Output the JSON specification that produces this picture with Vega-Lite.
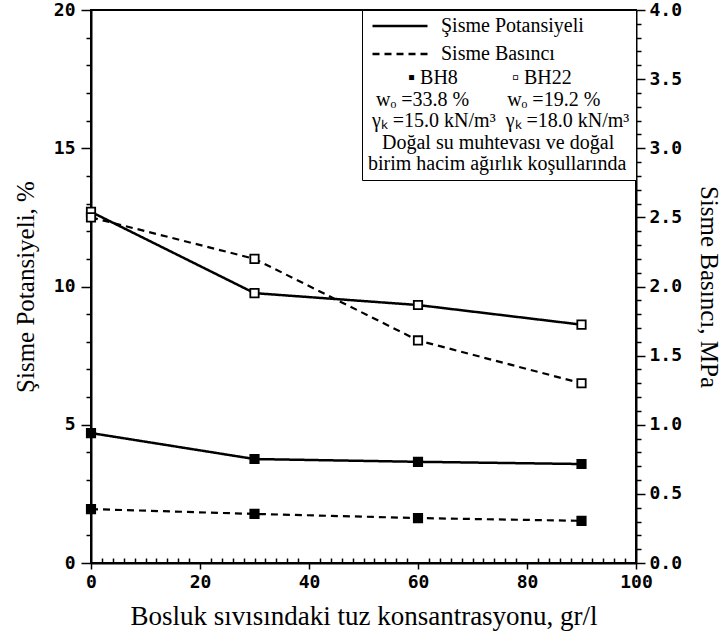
{
  "$schema": "https://vega.github.io/schema/vega-lite/v6.json",
  "width": 545,
  "height": 553,
  "autosize": {"type": "none"},
  "padding": {"left": 91, "top": 10, "right": 92, "bottom": 77},
  "background": "white",
  "config": {
    "view": {"stroke": "black", "strokeWidth": 2},
    "axis": {
      "domainColor": "black", "domainWidth": 2, "tickColor": "black", "tickWidth": 1.5,
      "labelFont": "DejaVu Sans Mono", "labelFontWeight": "bold", "labelFontSize": 18, "labelColor": "black",
      "titleFont": "Liberation Serif", "titleFontWeight": "normal", "titleFontSize": 25, "titleColor": "black",
      "grid": false, "labelOverlap": false, "labelFlush": false
    },
    "legend": {
      "labelFont": "Liberation Serif", "labelFontSize": 20, "labelColor": "black", "labelLimit": 400,
      "titleFont": "Liberation Serif", "titleFontSize": 20, "titleFontWeight": "normal", "titleColor": "black", "titleLimit": 400
    }
  },
  "data": {
    "values": [
      {"conc": 0, "sample": "BH22", "measure": "Şisme Potansiyeli", "value": 12.7},
      {"conc": 30, "sample": "BH22", "measure": "Şisme Potansiyeli", "value": 9.76},
      {"conc": 60, "sample": "BH22", "measure": "Şisme Potansiyeli", "value": 9.33},
      {"conc": 90, "sample": "BH22", "measure": "Şisme Potansiyeli", "value": 8.62},
      {"conc": 0, "sample": "BH8", "measure": "Şisme Potansiyeli", "value": 4.7},
      {"conc": 30, "sample": "BH8", "measure": "Şisme Potansiyeli", "value": 3.76},
      {"conc": 60, "sample": "BH8", "measure": "Şisme Potansiyeli", "value": 3.66},
      {"conc": 90, "sample": "BH8", "measure": "Şisme Potansiyeli", "value": 3.58},
      {"conc": 0, "sample": "BH22", "measure": "Sisme Basıncı", "value": 2.5},
      {"conc": 30, "sample": "BH22", "measure": "Sisme Basıncı", "value": 2.2},
      {"conc": 60, "sample": "BH22", "measure": "Sisme Basıncı", "value": 1.61},
      {"conc": 90, "sample": "BH22", "measure": "Sisme Basıncı", "value": 1.3},
      {"conc": 0, "sample": "BH8", "measure": "Sisme Basıncı", "value": 0.39},
      {"conc": 30, "sample": "BH8", "measure": "Sisme Basıncı", "value": 0.355},
      {"conc": 60, "sample": "BH8", "measure": "Sisme Basıncı", "value": 0.325},
      {"conc": 90, "sample": "BH8", "measure": "Sisme Basıncı", "value": 0.305}
    ]
  },
  "encoding": {
    "x": {
      "field": "conc", "type": "quantitative",
      "scale": {"domain": [0, 100], "nice": false, "zero": false},
      "axis": {
        "title": "Bosluk sıvısındaki tuz konsantrasyonu, gr/l",
        "titleFontSize": 27,
        "values": [0,2,4,6,8,10,12,14,16,18,20,22,24,26,28,30,32,34,36,38,40,42,44,46,48,50,52,54,56,58,60,62,64,66,68,70,72,74,76,78,80,82,84,86,88,90,92,94,96,98,100],
        "labelExpr": "datum.value % 20 === 0 ? datum.label : ''",
        "tickSize": {"condition": {"test": "datum.value % 20 === 0", "value": 6}, "value": -5},
        "labelPadding": 4,
        "titlePadding": 12
      }
    }
  },
  "layer": [
    {
      "transform": [{"filter": "datum.measure === 'Şisme Potansiyeli'"}],
      "encoding": {
        "y": {
          "field": "value", "type": "quantitative",
          "scale": {"domain": [0, 20], "nice": false, "zero": false},
          "axis": {
            "orient": "left",
            "title": "Şisme Potansiyeli, %",
            "format": "d",
            "values": [0,0.5,1,1.5,2,2.5,3,3.5,4,4.5,5,5.5,6,6.5,7,7.5,8,8.5,9,9.5,10,10.5,11,11.5,12,12.5,13,13.5,14,14.5,15,15.5,16,16.5,17,17.5,18,18.5,19,19.5,20],
            "labelExpr": "datum.value % 5 === 0 ? datum.label : ''",
            "tickSize": {"condition": {"test": "datum.value % 5 === 0", "value": 10}, "value": 5},
            "labelPadding": 6,
            "titlePadding": 15
          }
        }
      },
      "layer": [
        {
          "mark": {"type": "line", "strokeWidth": 2.5, "color": "black"},
          "encoding": {
            "detail": {"field": "sample"},
            "strokeDash": {
              "field": "measure", "type": "nominal",
              "scale": {"domain": ["Şisme Potansiyeli", "Sisme Basıncı"], "range": [[1, 0], [7, 5]]},
              "legend": {
                "title": ["\u200b\u2003\u2003▪ BH8\u2003\u2003\u2002\u2009▫ BH22", "\u200b\u2009\u2009wₒ =33.8 %\u2003\u2002\u2009\u2009wₒ =19.2 %", "\u200b\u2009γₖ =15.0 kN/m³\u2002γₖ =18.0 kN/m³", "\u200b\u2002\u2009Doğal su muhtevası ve doğal", "birim hacim ağırlık koşullarında"],
                "titleOrient": "bottom", "titleAnchor": "start", "titleAlign": "left", "titleLineHeight": 21.5, "titlePadding": 4,
                "orient": "top-right", "offset": 0, "padding": 6,
                "strokeColor": "black", "fillColor": "white",
                "symbolType": "M-1,0H9", "symbolSize": 121, "symbolStrokeWidth": 2.5, "symbolStrokeColor": "black", "symbolFillColor": "transparent",
                "rowPadding": 8, "labelOffset": 53
              }
            }
          }
        },
        {
          "mark": {"type": "point", "shape": "square", "size": 70, "stroke": "black", "strokeWidth": 1.8, "opacity": 1},
          "encoding": {
            "fill": {"field": "sample", "type": "nominal", "scale": {"domain": ["BH8", "BH22"], "range": ["black", "white"]}, "legend": null}
          }
        }
      ]
    },
    {
      "transform": [{"filter": "datum.measure === 'Sisme Basıncı'"}],
      "encoding": {
        "y": {
          "field": "value", "type": "quantitative",
          "scale": {"domain": [0, 4], "nice": false, "zero": false},
          "axis": {
            "orient": "right",
            "title": "Sisme Basıncı, MPa",
            "format": ".1f",
            "values": [0,0.1,0.2,0.3,0.4,0.5,0.6,0.7,0.8,0.9,1,1.1,1.2,1.3,1.4,1.5,1.6,1.7,1.8,1.9,2,2.1,2.2,2.3,2.4,2.5,2.6,2.7,2.8,2.9,3,3.1,3.2,3.3,3.4,3.5,3.6,3.7,3.8,3.9,4],
            "labelExpr": "round(datum.value * 10) % 5 === 0 ? datum.label : ''",
            "tickSize": {"condition": {"test": "round(datum.value * 10) % 5 === 0", "value": 9}, "value": 5},
            "labelPadding": 4,
            "titlePadding": 14
          }
        }
      },
      "layer": [
        {
          "mark": {"type": "line", "strokeWidth": 2.2, "color": "black"},
          "encoding": {
            "detail": {"field": "sample"},
            "strokeDash": {"field": "measure", "type": "nominal"}
          }
        },
        {
          "mark": {"type": "point", "shape": "square", "size": 70, "stroke": "black", "strokeWidth": 1.8, "opacity": 1},
          "encoding": {
            "fill": {"field": "sample", "type": "nominal", "legend": null}
          }
        }
      ]
    }
  ],
  "resolve": {"scale": {"y": "independent"}}
}
